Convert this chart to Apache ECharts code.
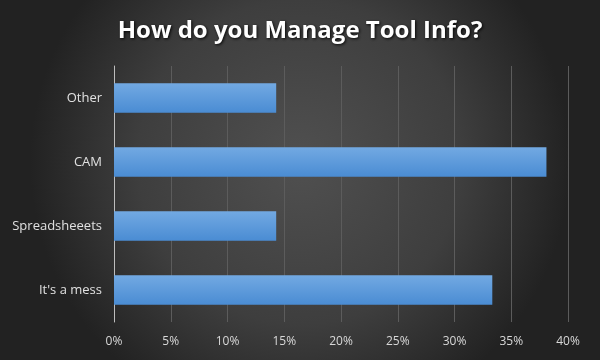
<!DOCTYPE html>
<html><head><meta charset="utf-8">
<script src="https://cdn.jsdelivr.net/npm/echarts@6/dist/echarts.min.js"></script>
<style>html,body{margin:0;padding:0;background:#333;}#c{width:600px;height:360px;}</style>
</head><body><div id="c"></div>
<script>
var categories = ["It's a mess", "Spreadsheeets", "CAM", "Other"];
var values = [33.33, 14.29, 38.1, 14.29];
var ticks = [0, 5, 10, 15, 20, 25, 30, 35, 40];
var chart = echarts.init(document.getElementById('c'));
chart.setOption({
  backgroundColor: {type:'radial', x:0.5, y:0.45, r:0.75,
    colorStops:[{offset:0,color:'#505050'},{offset:0.6,color:'#3e3e3e'},{offset:1,color:'#222222'}]},
  title: {text:'How do you Manage Tool Info?', left:'center', top:14,
    textStyle:{color:'#ffffff', fontFamily:'Open Sans', fontWeight:'bold', fontSize:24,
      textShadowColor:'rgba(0,0,0,0.9)', textShadowBlur:3, textShadowOffsetX:1, textShadowOffsetY:1}},
  grid: {left:114, right:32, top:66, bottom:38},
  xAxis: {type:'value', min:0, max:40, interval:5,
    axisLine:{show:false}, axisTick:{show:false},
    axisLabel:{color:'#d8d8d8', fontFamily:'Open Sans', fontSize:12, margin:14, formatter:function(v){return v+'%';}},
    splitLine:{show:true, lineStyle:{color:'#5c5c5c', width:1}}},
  yAxis: {type:'category', data:categories,
    axisLine:{show:true, lineStyle:{color:'#bdbdbd', width:1}}, axisTick:{show:false},
    axisLabel:{color:'#e0e0e0', fontFamily:'Open Sans', fontSize:13, margin:12}},
  series: [{type:'bar', data:values, barWidth:'46%',
    itemStyle:{color:{type:'linear', x:0, y:0, x2:0, y2:1,
      colorStops:[{offset:0,color:'#72a9e2'},{offset:1,color:'#4a8cd3'}]},
      shadowColor:'rgba(0,0,0,0.7)', shadowBlur:3, shadowOffsetX:2, shadowOffsetY:2},
    silent:true}]
});
</script></body></html>
